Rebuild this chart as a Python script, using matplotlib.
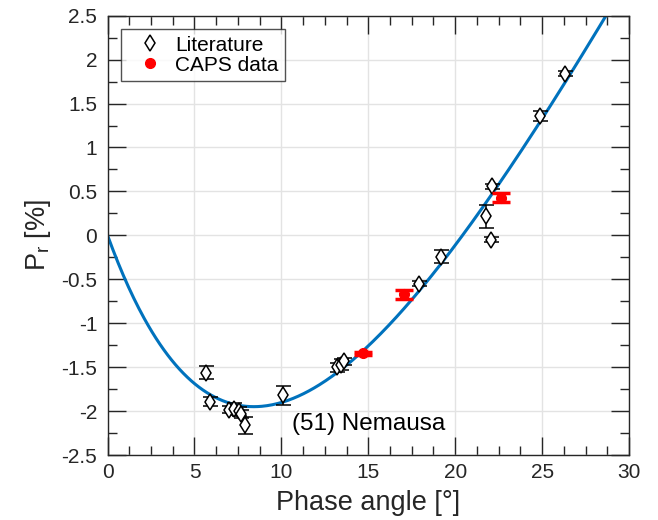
import numpy as np
import matplotlib
matplotlib.use("Agg")
import matplotlib.pyplot as plt
from matplotlib.ticker import MultipleLocator

plt.rcParams['font.family'] = ['Liberation Sans', 'DejaVu Sans']

# literature polarimetry of (51) Nemausa: phase angle, Pr, error
lit_alpha = [5.64, 5.91, 7.0, 7.3, 7.55, 7.65, 7.9, 10.1, 13.2, 13.4, 13.6,
             17.9, 19.17, 21.75, 22.04, 22.13, 24.86, 26.33]
lit_pr = [-1.56, -1.89, -1.98, -1.97, -2.0, -2.03, -2.16, -1.82, -1.5, -1.47, -1.43,
          -0.55, -0.24, 0.22, -0.05, 0.56, 1.36, 1.84]
lit_err = [0.07, 0.05, 0.04, 0.07, 0.05, 0.05, 0.1, 0.11, 0.05, 0.06, 0.04,
           0.03, 0.07, 0.13, 0.03, 0.03, 0.06, 0.03]

# CAPS measurements
caps_alpha = [14.69, 17.07, 22.61]
caps_pr = [-1.34, -0.67, 0.43]
caps_err = [0.02, 0.055, 0.055]

# linear-exponential phase curve fit: A*(exp(-a/B) - 1) + C*a
fit_A, fit_B, fit_C = 8.5, 9.3, 0.37

fig = plt.figure(figsize=(6.58, 5.2), dpi=100)
ax = fig.add_axes([0.1635, 0.1245, 0.7925, 0.8455])

a = np.linspace(0, 30, 400)
ax.plot(a, fit_A * (np.exp(-a / fit_B) - 1) + fit_C * a, color='#0072BD', lw=2.2, zorder=2)

ax.errorbar(lit_alpha, lit_pr, yerr=lit_err, fmt='d', mfc='white', mec='black',
            ecolor='black', ms=8, mew=1.1, elinewidth=1.1, capsize=5.4, capthick=1.1,
            label='Literature', zorder=3)
ax.errorbar(caps_alpha, caps_pr, yerr=caps_err, fmt='o', color='red', ms=7,
            elinewidth=2.5, capsize=6.8, capthick=2.5, label='CAPS data', zorder=4)

ax.text(10.6, -2.14, '(51) Nemausa', fontsize=17.5, va='center', ha='left')

ax.set_xlim(0, 30)
ax.set_ylim(-2.5, 2.5)
ax.xaxis.set_major_locator(MultipleLocator(5))
ax.xaxis.set_minor_locator(MultipleLocator(1.25))
ax.yaxis.set_major_locator(MultipleLocator(0.5))
ax.yaxis.set_minor_locator(MultipleLocator(0.25))
ax.set_yticklabels(['%g' % v for v in ax.get_yticks()])
ax.grid(True, which='major', color='#E3E3E3', lw=1)
ax.set_axisbelow(True)
ax.tick_params(which='both', direction='in', top=True, right=True, colors='#262626',
               labelcolor='#262626', labelsize=15, width=1)
ax.tick_params(which='major', length=13)
ax.tick_params(which='minor', length=6.5)
ax.tick_params(axis='x', pad=5.5)
ax.tick_params(axis='y', pad=7.5)
for s in ax.spines.values():
    s.set_color('#262626')
    s.set_linewidth(1)

ax.set_xlabel('Phase angle [°]', fontsize=19.5, color='#262626', labelpad=6)
ax.set_ylabel('P$_\\mathregular{r}$ [%]', fontsize=19.5, color='#262626', labelpad=6)

handles, labels = ax.get_legend_handles_labels()
handles = [h[0] for h in handles]
leg = ax.legend(handles, labels, loc='upper left', fontsize=15, frameon=True,
                fancybox=False, edgecolor='#262626', borderaxespad=0.66,
                handletextpad=0.1, borderpad=0.3, labelspacing=0.05, handlelength=2.2)
leg.get_frame().set_linewidth(1)

fig.savefig('out.png', dpi=100)
